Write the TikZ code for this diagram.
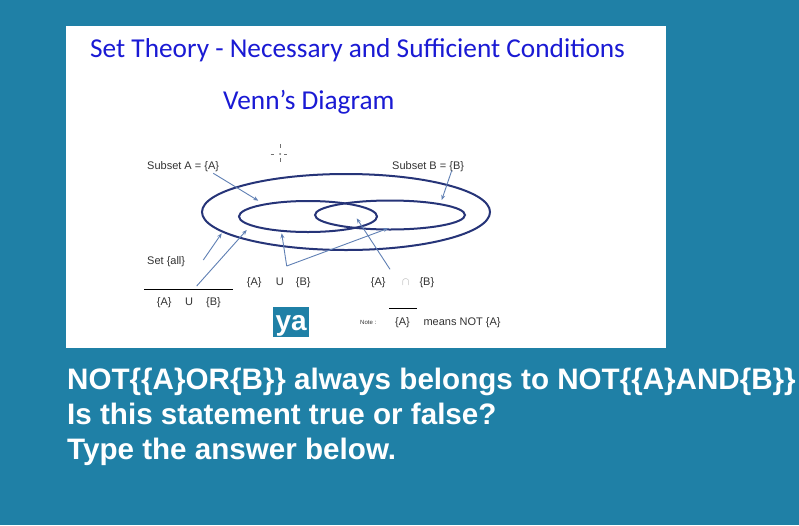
\documentclass[tikz,border=0pt]{standalone}
\usepackage{fontspec}
\setmainfont{Liberation Sans}
\newfontfamily\titlefont{Carlito}
\usetikzlibrary{arrows.meta,shapes.geometric}
\definecolor{bgblue}{RGB}{31,128,166}
\definecolor{titleblue}{RGB}{26,26,212}
\definecolor{navy}{RGB}{38,52,120}
\definecolor{arrowblue}{RGB}{96,128,180}
\definecolor{labelgrey}{RGB}{50,50,50}
\tikzset{
  lbl/.style={anchor=base west, inner sep=0pt, font=\fontsize{11}{13}\selectfont, text=labelgrey},
  ttl/.style={anchor=base west, inner sep=0pt, font=\titlefont\fontsize{27.3}{30}\selectfont, text=titleblue},
  big/.style={anchor=base west, inner sep=0pt, font=\bfseries\fontsize{29.6}{32}\selectfont, text=white},
  setline/.style={draw=navy, line width=2pt},
  ptr/.style={draw=arrowblue, line width=0.9pt, -{Stealth[length=5pt,width=4pt]}},
  cross/.style={draw=labelgrey!70, line width=0.9pt}
}
\begin{document}
\begin{tikzpicture}[x=1pt,y=-1pt]
\useasboundingbox (0,0) rectangle (799,525);
\fill[bgblue] (0,0) rectangle (799,525);
\fill[white] (66,26) rectangle (665.5,348.3);
% titles
\node[ttl] (title) at (90,57.3) {Set Theory - Necessary and Sufficient Conditions};
\node[ttl] (venn) at (223,109.3) {Venn’s Diagram};
% sets
\node[setline, ellipse, minimum width=288pt, minimum height=76pt, inner sep=0pt] (all) at (346,212) {};
\draw[setline] (308,216.5) ellipse [x radius=69, y radius=15.5];
\draw[setline] (390,215) ellipse [x radius=75, y radius=14.5];
\coordinate (Aset) at (308,216.5);
\coordinate (Bset) at (390,215);
% crosshair
\coordinate (cc) at (280,154);
\draw[cross] (270.7,154) -- (274,154) (284,154) -- (287.3,154)
  (280,144.3) -- (280,148.3) (280,158.3) -- (280,162.3);
\fill[labelgrey!70] (cc) circle (1pt);
% labels
\node[lbl] (subA) at (147,169) {Subset A = \{A\}};
\node[lbl] (subB) at (392,169) {Subset B = \{B\}};
\node[lbl] (setall) at (147,264) {Set \{all\}};
\draw[black, line width=1.1pt] (144,289.3) coordinate (ul1) -- (233.3,289.3) coordinate (ul2);
\node[lbl] (u1a) at (156.7,305) {\{A\}};
\node[lbl] (u1u) at (185,305) {U};
\node[lbl] (u1b) at (206,305) {\{B\}};
\node[lbl] (u2a) at (246.7,285) {\{A\}};
\node[lbl] (u2u) at (275.7,285) {U};
\node[lbl] (u2b) at (295.7,285) {\{B\}};
\node[lbl] (i2a) at (370.7,285) {\{A\}};
\node[lbl, text=black!35] (i2n) at (402,285) {$\cap$};
\node[lbl] (i2b) at (419.3,285) {\{B\}};
% note
\node[lbl, font=\fontsize{6}{7}\selectfont] (note) at (360,324) {Note :};
\node[lbl] (nA) at (395,325) {\{A\}};
\draw[black, line width=1.1pt] (389.3,308.3) -- (417.3,308.3);
\node[lbl] (nmean) at (423.3,325) {means NOT \{A\}};
% ya box
\fill[bgblue] (273.3,306.7) rectangle (309,336.7);
\node[anchor=base, inner sep=0pt, font=\bfseries\fontsize{28}{30}\selectfont, text=white] (ya) at (291.2,330) {ya};
% pointers
\coordinate (pA0) at (213.3,173.3); \coordinate (pA1) at (258.3,200.7);
\coordinate (pB0) at (451.7,170.7); \coordinate (pB1) at (441.7,200);
\coordinate (pS0) at (203.3,260); \coordinate (pS1) at (221.7,233.3);
\coordinate (pU0) at (196.7,286); \coordinate (pU1) at (246.7,230);
\coordinate (pV) at (286.7,266); \coordinate (pV1) at (281.7,233.3); \coordinate (pV2) at (388.3,228.3);
\coordinate (pI0) at (390,269.3); \coordinate (pI1) at (356.7,218.3);
\draw[ptr] (pA0) -- (pA1);
\draw[ptr] (pB0) -- (pB1);
\draw[ptr] (pS0) -- (pS1);
\draw[ptr] (pU0) -- (pU1);
\draw[ptr] (pV) -- (pV1);
\draw[ptr] (pV) -- (pV2);
\draw[ptr] (pI0) -- (pI1);
% question
\node[big] (q1) at (67,389.3) {NOT\{\{A\}OR\{B\}\} always belongs to NOT\{\{A\}AND\{B\}\}};
\node[big] (q2) at (67,424.5) {Is this statement true or false?};
\node[big] (q3) at (67,459) {Type the answer below.};
\end{tikzpicture}
\end{document}
